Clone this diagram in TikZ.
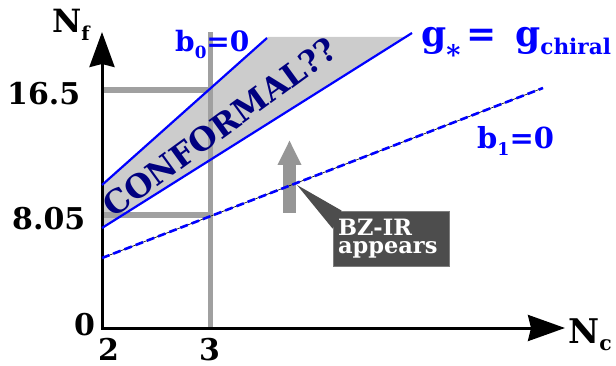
\documentclass[tikz,border=0pt]{standalone}
\usepackage{fontspec}
\setmainfont{DejaVu Serif}
\usetikzlibrary{arrows.meta}
\definecolor{linegray}{RGB}{160,160,160}
\definecolor{shadegray}{RGB}{204,204,204}
\definecolor{boxgray}{RGB}{77,77,77}
\definecolor{boxedge}{RGB}{125,125,125}
\definecolor{arrowgray}{RGB}{150,150,150}
\definecolor{navytext}{RGB}{0,0,128}
\definecolor{pureblue}{RGB}{0,0,255}
\newcommand{\lowsb}[1]{\raisebox{-0.22em}{\scalebox{0.6}{#1}}}
\newcommand{\fsz}[1]{\fontsize{#1}{#1}\selectfont\bfseries}
\begin{document}
\begin{tikzpicture}[x=1pt,y=-1pt,
  lbl/.style={inner sep=0pt, anchor=base west, font={\fsz{30}}},
  bluelbl/.style={lbl, text=pureblue},
  grayline/.style={draw=linegray},
  axisline/.style={line width=3pt, {Stealth[length=35pt,width=25pt,inset=3pt]}-{Stealth[length=37pt,width=26pt,inset=3pt]}},
  blueline/.style={draw=pureblue, line width=2.2pt},
  bzbox/.style={fill=boxgray, draw=boxedge, line width=0.8pt, minimum width=116pt, minimum height=55pt,
    text width=106pt, inner sep=0pt, align=left, text=white, font={\fontsize{22.5}{18}\selectfont\bfseries}}]
\useasboundingbox (0,0) rectangle (616,366);
% key points
\coordinate (O) at (102,328);
\coordinate (ytip) at (102,32);
\coordinate (xtip) at (565,328);
\coordinate (uL) at (102,185);
\coordinate (uR) at (267,38);
\coordinate (lL) at (102,228);
\coordinate (lR) at (412,33);
\coordinate (sTL) at (268,37);
\coordinate (sTR) at (406,37);
\coordinate (dL) at (102,258);
\coordinate (dR) at (543,88);
\coordinate (vTop) at (210,32);
\coordinate (vBot) at (210,328);
\coordinate (hA0) at (102,90);
\coordinate (hA1) at (210,90);
\coordinate (hB0) at (102,215);
\coordinate (hB1) at (210,215);
\coordinate (ga0) at (289.5,213);
\coordinate (ga1) at (289.5,140);
\coordinate (bztip) at (297,185);
% shaded conformal window
\fill[shadegray] (uL) -- (sTL) -- (sTR) -- (lL) -- cycle;
% gray guide lines
\draw[grayline, line width=5pt] (vTop) -- (vBot);
\draw[grayline, line width=6pt] (hA0) -- (hA1);
\draw[grayline, line width=6pt] (hB0) -- (hB1);
% axes
\draw[axisline] (ytip) -- (O) -- (xtip);
% blue lines
\draw[blueline] (uL) -- (uR);
\draw[blueline] (lL) -- (lR);
% gray arrow
\draw[arrowgray, line width=13pt, -{Triangle[length=25pt,width=22pt]}] (ga0) -- (ga1);
% dashed b1 line
\draw[black, line width=0.6pt] (dL) -- (dR);
\draw[blueline, line width=2.6pt, dash pattern=on 8pt off 4pt] (dL) -- (dR);
% conformal text
\node[rotate=36, text=navytext, font={\fsz{32}}, inner sep=0pt] (conf) at (220,127) {CONFORMAL??};
% callout box
\node[bzbox] (bz) at (391,238.5) {BZ-IR\\appears};
\fill[boxgray] (bztip) -- ([xshift=9pt]bz.north west) -- ([yshift=-18pt]bz.north west) -- cycle;
% axis labels
\node[lbl, font={\fsz{32}}] (nf) at (52,33) {N\lowsb{f}};
\node[lbl, font={\fsz{34}}] (nc) at (568,343) {N\lowsb{c}};
\node[lbl] (t165) at (7,105) {16.5};
\node[lbl] (t805) at (12,230) {8.05};
\node[lbl] (t0) at (74,335) {0};
\node[lbl] (t2) at (98,360) {2};
\node[lbl] (t3) at (199,360) {3};
% line labels
\node[bluelbl, font={\fsz{28}}] (b0) at (175,52) {b\lowsb{0}=0};
\node[bluelbl, font={\fsz{36}}] (gs) at (421,47) {g\raisebox{-0.5em}{\scalebox{0.75}{*}}\,= \,g\lowsb{chiral}};
\node[bluelbl, font={\fsz{29}}] (b1) at (477,149) {b\lowsb{1}=0};
\end{tikzpicture}
\end{document}
